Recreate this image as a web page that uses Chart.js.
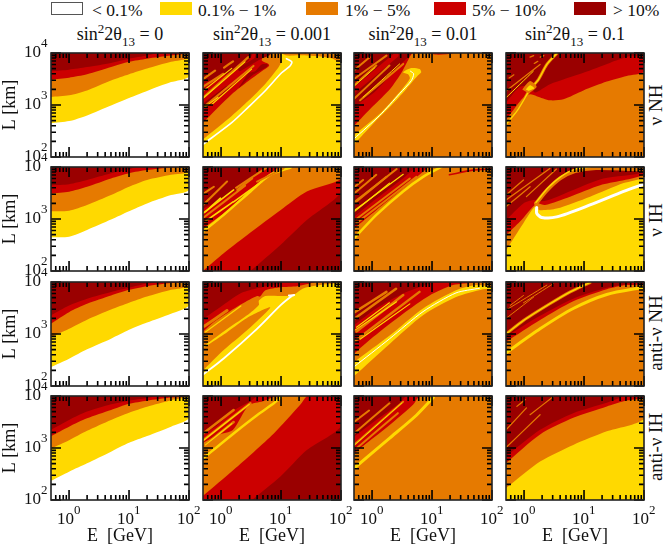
<!DOCTYPE html>
<html>
<head>
<meta charset="utf-8">
<script src="https://cdn.jsdelivr.net/npm/chart.js@4"></script>
<style>
html, body { margin: 0; padding: 0; background: #fff; overflow: hidden; }
body { position: relative; width: 664px; height: 547px; font-family: "Liberation Serif", serif; color: #111; }
canvas { position: absolute; }
.txt { position: absolute; white-space: nowrap; font-size: 17.5px; line-height: 20px; }
.swatch { position: absolute; top: 2px; height: 13px; width: 32px; box-sizing: border-box; }
.ttl { font-size: 18px; }
.ttl sup { font-size: 13px; vertical-align: 7px; line-height: 0; }
.ttl sub { font-size: 13px; vertical-align: -6px; line-height: 0; }
.side { font-size: 19px; transform: translate(-50%, -50%) rotate(-90deg); }
</style>
</head>
<body>
<script>
// legend + headers
const legendLabels = ['< 0.1%', '0.1% \u2212 1%', '1% \u2212 5%', '5% \u2212 10%', '> 10%'];
const levelColors = ['#ffffff', '#ffd900', '#e67a00', '#cc0000', '#9a0000'];
const columnValues = ['0', '0.001', '0.01', '0.1'];
const rowLabels = ['\u03bd NH', '\u03bd IH', 'anti-\u03bd NH', 'anti-\u03bd IH'];

// axis ticks
const xTicks = [0.6,0.7,0.8,0.9,1,2,3,4,5,6,7,8,9,10,20,30,40,50,60,70,80,90,100];
const yTicks = [100,200,300,400,500,600,700,800,900,1000,2000,3000,4000,5000,6000,7000,8000,9000,10000];
const tickBase = '10';
const xTickExponents = {1: '0', 10: '1', 100: '2'};
const yTickExponents = {100: '2', 1000: '3', 10000: '4'};

// contour curves, as [log10 E, log10 L]
// row 1, sin22t13 = 0
const r1c1Yellow = [[-.3,2.65],[0,2.69],[.3,2.8],[.7,2.99],[1,3.135],[1.3,3.27],[1.7,3.44],[2,3.55]];
const r1c1Orange = [[-.3,3.154],[0,3.186],[.3,3.28],[.7,3.47],[1,3.59],[1.3,3.7],[1.7,3.83],[2,3.91]];
const r1c1Red = [[-.3,3.49],[0,3.525],[.3,3.59],[.7,3.73],[1,3.83],[1.3,3.89],[1.7,3.95],[2,4]];
const r1c1Dark = [[-.3,3.65],[0,3.68],[.3,3.73],[.7,3.81],[1,3.89],[1.3,3.95],[1.5,4.01]];
// row 1, 0.001
const r1c2Cap = [[.95,4.02],[1.1,3.95],[1.29,3.955],[1.567,3.94],[1.84,3.9],[2,3.83]];
const r1c2Orange = [[-.3,2.34],[.178,2.79],[.456,3.08],[.733,3.4],[.956,3.72],[1.01,3.85],[.99,3.91],[1,4.1],[-.4,4.1]];
const r1c2White = [[-.3,2.244],[.178,2.66],[.456,2.96],[.733,3.27],[1.01,3.62],[1.15,3.75],[1.18,3.83],[1.09,3.89]];
const r1c2Red = [[-.3,2.66],[.178,3.205],[.456,3.46],[.678,3.65],[.8,3.75],[.79,3.79],[.678,3.86],[.74,4.1],[-.4,4.1]];
const r1c2DarkA = [[-.3,4.1],[.54,4.1],[.456,3.85],[.178,3.65],[-.044,3.525],[-.3,3.41]];
const r1c2DarkB = [[.29,3.32],[.51,3.56],[.76,3.73],[.78,3.78],[.678,3.78],[.567,3.65],[.456,3.62]];
const r1c2DarkC = [[.6,4.1],[.9,4.1],[.8,3.95],[.55,3.85]];
const r1c2StripeDark = [[[.317,3.69],[.678,3.94]],[[-.3,2.98],[.1,3.33]]];
const r1c2StripeOrange = [[[-.3,3.35],[.04,3.6]],[[-.3,3.14],[.456,3.92]],[[-.27,2.98],[.54,3.75]],[[-.3,3.5],[-.1,3.66]],[[.05,3.72],[.2,3.84]]];
const r1c2StripeYellow = [[[-.3,3.27],[.178,3.705]],[[-.3,3.13],[.4,3.83]],[[-.156,3.01],[.51,3.69]],[[-.28,2.95],[-.05,3.15]]];
// row 1, 0.01
const r1c3YellowBand = [[-.3,2.24],[.017,2.64],[.294,2.96],[.572,3.31],[.767,3.57],[.82,3.63],[.794,3.69],[.656,3.71],[.517,3.63],[.6,3.59],[.63,3.51],[.46,3.25],[.128,2.83],[-.3,2.42]];
const r1c3White = [[-.3,2.35],[.128,2.8],[.461,3.22],[.656,3.47],[.694,3.6],[.64,3.65]];
const r1c3Red = [[-.3,2.6],[.017,2.98],[.294,3.3],[.45,3.55],[.51,3.66],[.63,3.93],[.72,4.1],[-.4,4.1]];
const r1c3Dark = [[-.3,2.96],[.07,3.28],[.378,3.67],[.63,3.955],[.72,4.1],[-.4,4.1]];
const r1c3RedTop = [[.72,4.1],[1.05,3.97],[1.4,4.01],[1.4,4.1]];
const r1c3StripeOrange = [[[-.3,3.38],[.07,3.76]],[[-.3,3.5],[.24,3.95]],[[-.3,3.12],[.29,3.76]],[[-.3,3.67],[-.04,3.92]],[[-.2,3.09],[.52,3.79]]];
const r1c3StripeYellow = [[[-.15,3.15],[.46,3.79]],[[-.3,3.36],[.05,3.72]]];
const r1c3StripeRed = [[[-.3,3.28],[.4,3.96]]];
// row 1, 0.1
const r1c4Red = [[-.3,2.72],[-.18,2.9],[-.03,3.12],[.1,3.205],[.21,3.17],[.433,3.09],[.656,3.11],[.99,3.28],[1.38,3.45],[1.71,3.56],[2,3.64]];
const r1c4Dark = [[-.3,3.05],[-.067,3.35],[.1,3.35],[.183,3.24],[.433,3.4],[.99,3.62],[1.43,3.81],[1.77,3.94],[2,3.96]];
const r1c4Spine = [[-.29,2.64],[-.12,2.88],[.017,3.14],[.1,3.3],[.24,3.49],[.38,3.78],[.544,3.99]];
const r1c4Blob = [[-.03,3.3],[.1,3.46],[.21,3.35],[.08,3.22]];
const r1c4BlobCore = [[.03,3.3],[.1,3.38],[.17,3.32],[.08,3.27]];
const r1c4StripeYellow = [[[-.3,3.14],[.155,3.65]]];
const r1c4StripeOrange = [[[-.3,3.27],[.267,3.78]],[[-.25,3.52],[-.17,3.58]],[[.1,3.92],[.16,3.95]],[[.27,3.92],[.33,3.95]],[[.17,3.8],[.23,3.84]]];
// row 2, 0
const r2c1Yellow = [[-.3,2.65],[0,2.66],[.3,2.79],[.7,2.99],[1,3.15],[1.3,3.3],[1.7,3.46],[2,3.56]];
const r2c1Orange = [[-.3,3.15],[0,3.16],[.3,3.27],[.7,3.46],[1,3.62],[1.3,3.75],[1.7,3.85],[2,3.91]];
const r2c1Red = [[-.3,3.49],[0,3.525],[.3,3.62],[.7,3.78],[1,3.88],[1.3,3.94],[1.7,3.99],[1.9,4.01]];
const r2c1Dark = [[-.3,3.65],[0,3.67],[.3,3.75],[.7,3.88],[1,3.955],[1.15,4.01]];
// row 2, 0.001
const r2c2Red = [[-.35,1.4],[.2,1.72],[.49,2],[.99,2.5],[1.43,2.98],[2,3.51]];
const r2c2Orange = [[-.3,2],[.044,2.34],[.49,2.74],[.99,3.17],[1.43,3.53],[2,3.77]];
const r2c2Red2 = [[-.3,2.82],[.044,3.11],[.49,3.56],[.82,3.87],[1.02,4.02]];
const r2c2Dark = [[-.3,3.2],[.044,3.4],[.3,3.6],[.6,3.88],[.74,4.02]];
const r2c2Yellow = [[-.3,2.76],[.044,3.08],[.49,3.53],[.82,3.85],[1.16,3.99]];
const r2c2StripeOrange = [[[-.3,3.27],[.1,3.72]],[[-.3,3.02],[.4,3.64]],[[.25,3.6],[.75,3.98]],[[-.29,3.49],[-.12,3.62]],[[.27,3.56],[.52,3.78]],[[.6,3.72],[1.04,3.97]]];
const r2c2StripeYellow = [[[-.3,3.11],[.21,3.56]],[[-.27,2.95],[.2,3.33]],[[.21,3.33],[.68,3.72]],[[-.26,3.14],[-.01,3.4]]];
// row 2, 0.01
const r2c3Yellow = [[-.3,2.63],[.072,3.08],[.517,3.53],[.85,3.81],[1.155,4]];
const r2c3Red = [[-.3,2.82],[.07,3.17],[.517,3.59],[.85,3.91],[.99,4.02]];
const r2c3Dark = [[-.3,3.04],[.07,3.39],[.517,3.78],[.79,4.02]];
const r2c3RedTop = [[1.29,3.85],[1.68,3.94],[1.98,3.96]];
const r2c3StripeOrange = [[[-.3,3.3],[.24,3.81]],[[-.3,3.49],[.07,3.85]],[[-.26,3],[.63,3.78]],[[-.29,3.62],[-.15,3.75]],[[-.29,3.33],[.41,3.96]],[[-.26,2.92],[.74,3.81]]];
const r2c3StripeYellow = [[[-.3,3.14],[.29,3.69]],[[-.29,3.17],[.52,3.86]]];
// row 2, 0.1
const r2c4Orange = [[-.3,2.4],[-.011,2.92],[.183,3.24],[.26,3.17],[.544,3.2],[1.1,3.43],[1.66,3.69],[2,3.81]];
const r2c4White = [[.211,3.22],[.211,3.11],[.294,3.03],[.544,3.04],[1.1,3.27],[1.66,3.53],[2,3.67]];
const r2c4Red = [[-.3,2.69],[-.067,2.95],[.21,3.3],[.35,3.27],[.767,3.43],[1.27,3.65],[2,3.85]];
const r2c4Dark = [[-.3,2.98],[-.011,3.3],[.156,3.365],[.26,3.34],[.406,3.365],[.82,3.56],[1.32,3.78],[2,3.9]];
const r2c4Band = [[.2,3.3],[.38,3.55],[.6,3.78],[.85,3.92],[1.2,3.98],[2,3.95]];
const r2c4BandCore = [[.2,3.32],[.4,3.6],[.62,3.82],[.85,3.96],[1.1,4]];
const r2c4StripeOrange = [[[-.3,3.365],[.43,3.97]],[[-.3,3.24],[.1,3.62]],[[-.3,3.46],[-.01,3.75]],[[.04,3.43],[.54,3.96]]];
// row 3, 0
const r3c1Yellow = [[-.3,2.365],[0,2.525],[.3,2.705],[.7,2.91],[1,3.08],[1.3,3.22],[1.7,3.39],[2,3.55]];
const r3c1Orange = [[-.3,2.94],[0,3.1],[.3,3.275],[.7,3.47],[1,3.6],[1.3,3.72],[1.7,3.85],[2,3.92]];
const r3c1Red = [[-.3,3.2],[0,3.42],[.3,3.58],[.7,3.74],[1,3.85],[1.3,3.92],[1.7,3.98],[2,4]];
const r3c1Dark = [[-.3,3.36],[0,3.55],[.3,3.68],[.7,3.81],[1,3.89],[1.3,3.97],[1.6,4.01]];
// row 3, 0.001
const r3c2White = [[-.3,2.22],[.044,2.53],[.6,3.1],[.99,3.55],[1.18,3.73],[1.22,3.75],[1.13,3.74]];
const r3c2Finger = [[-.3,2.3],[.044,2.69],[.433,3.07],[.82,3.51],[.433,3.31],[.044,2.99],[-.3,2.73]];
const r3c2Orange = [[-.3,2.76],[.044,3.05],[.433,3.36],[.63,3.56],[.63,3.64],[.74,3.73],[1.18,3.74],[1.38,3.88],[1.71,3.95],[2,3.99]];
const r3c2Red = [[-.3,3.04],[-.12,3.23],[.35,3.58],[.6,3.73],[.65,3.72],[.74,3.84],[.99,3.9],[1.27,3.92],[1.54,3.99],[1.6,4.02]];
const r3c2Dark = [[-.3,3.29],[-.01,3.52],[.32,3.78],[.57,3.87],[.99,3.97],[1.04,4.01]];
const r3c2StripeOrange = [[[-.3,2.97],[.267,3.46]],[[-.28,3.15],[.1,3.45]]];
const r3c2StripeYellow = [[[-.26,3.04],[.33,3.54]]];
// row 3, 0.01
const r3c3YellowBand = [[-.3,2.19],[.294,2.81],[.85,3.36],[1.4,3.71],[1.85,3.86],[2,3.87],[2,3.9],[1.74,3.94],[1.4,3.84],[.85,3.49],[.294,2.97],[-.3,2.46]];
const r3c3White = [[-.3,2.37],[.294,2.91],[.85,3.43],[1.4,3.79],[1.79,3.88]];
const r3c3Red = [[-.3,2.62],[.017,2.94],[.517,3.39],[.96,3.74],[1.35,3.94],[1.74,3.99],[1.9,4.02]];
const r3c3Dark = [[-.3,3.17],[.07,3.49],[.517,3.78],[.96,3.97],[1.04,4.02]];
const r3c3StripeOrange = [[[-.3,3.29],[.4,3.87]],[[-.3,2.85],[.79,3.81]],[[-.26,3.05],[.52,3.75]],[[-.29,3.42],[.24,3.81]]];
const r3c3StripeYellow = [[[-.26,3.13],[.29,3.6]],[[-.2,2.9],[.63,3.58]],[[-.29,3.07],[.41,3.62]]];
// row 3, 0.1
const r3c4Yellow = [[-.3,2.64],[.267,3.1],[.82,3.49],[1.38,3.76],[2,3.9]];
const r3c4Red = [[-.3,2.85],[.267,3.27],[.82,3.63],[1.38,3.86],[1.7,3.94],[2,3.96]];
const r3c4Dark = [[-.3,2.95],[.267,3.35],[.82,3.68],[1.38,3.89],[1.7,3.96],[1.9,4.01]];
const r3c4Upper = [[-.3,3],[-.01,3.26],[.43,3.58],[.77,3.81],[1.1,3.99]];
const r3c4StripeOrange = [[[-.3,3.3],[.16,3.71]],[[-.3,3.46],[.38,3.94]],[[-.23,3.55],[-.01,3.74]],[[-.01,3.6],[.49,3.97]]];
// row 4, 0
const r4c1Yellow = [[-.3,2.37],[0,2.545],[.3,2.705],[.7,2.93],[1,3.1],[1.3,3.23],[1.7,3.41],[2,3.57]];
const r4c1Orange = [[-.3,2.99],[0,3.15],[.3,3.33],[.7,3.54],[1,3.68],[1.3,3.795],[1.7,3.92],[2,3.99]];
const r4c1Red = [[-.3,3.23],[0,3.41],[.3,3.57],[.7,3.73],[1,3.85],[1.3,3.91],[1.7,3.97],[2,4]];
const r4c1Dark = [[-.3,3.35],[0,3.54],[.3,3.7],[.7,3.84],[1,3.91],[1.3,3.96],[1.5,4.01]];
// row 4, 0.001
const r4c2Red = [[-.35,1.4],[.2,1.7],[.517,2],[.99,2.45],[1.43,2.96],[2,3.42]];
const r4c2Orange = [[-.3,2.08],[.21,2.58],[.88,3.28],[1.32,3.83],[1.46,4.02]];
const r4c2Red2 = [[-.3,3.1],[-.05,3.25],[.2,3.35],[.46,3.82],[.7,3.9],[.99,4.02]];
const r4c2Dark = [[-.3,3.25],[-.05,3.45],[.21,3.72],[.49,3.9],[.65,4.02]];
const r4c2Yellow = [[-.3,2.8],[.21,3.28],[.6,3.63],[.88,3.86],[1,3.98]];
const r4c2StripeOrange = [[[-.3,3.15],[.49,3.86]],[[-.3,3.03],[.21,3.5]],[[-.3,3.28],[.21,3.73]]];
const r4c2StripeYellow = [[[-.3,3.14],[.47,3.84]],[[-.26,3.06],[.18,3.47]]];
// row 4, 0.01
const r4c3Yellow = [[-.3,2.61],[.294,3.19],[.74,3.63],[1.02,3.97]];
const r4c3Red = [[-.3,2.9],[.294,3.44],[.683,3.83],[.82,4.02]];
const r4c3Dark = [[-.3,3.22],[.07,3.54],[.46,3.86],[.6,4.02]];
const r4c3StripeOrange = [[[-.3,3.28],[.29,3.86]],[[-.3,3.06],[.517,3.89]],[[-.26,2.99],[.43,3.67]],[[-.3,3.5],[-.05,3.72]]];
const r4c3StripeYellow = [[[-.3,3.05],[.5,3.87]]];
// row 4, 0.1
const r4c4Orange = [[-.3,2.23],[.267,2.74],[.82,3.06],[1.38,3.32],[2,3.56]];
const r4c4Red = [[-.3,2.71],[.267,3.26],[.82,3.58],[1.38,3.8],[1.66,3.9],[2,3.97]];
const r4c4Dark = [[-.3,2.84],[.267,3.35],[.82,3.67],[1.38,3.87],[1.57,3.95],[1.66,4.01]];
const r4c4StripeOrange = [[[-.3,3.01],[.267,3.64]],[[.1,3.64],[.49,3.99]],[[-.3,3.35],[.04,3.77]],[[-.12,3.8],[.02,3.93]]];

const WHITE = 0, YELLOW = 1, ORANGE = 2, RED = 3, DARK = 4;
const whole = [[-.4,1.9],[2.1,1.9]];
// closes a curve over the top of the panel
const above = c => [...c, [2.1, 4.1], [-.4, 4.1]];
const area = (c, level) => ({pts: above(c), level});
const poly = (pts, level) => ({pts, level});
const stroke = (pts, level, width) => ({pts, level, width});
const strokes = (list, level, width) => list.map(s => stroke(s, level, width));

// painted bottom to top
const panels = [
  [area(whole,WHITE), area(r1c1Yellow,YELLOW), area(r1c1Orange,ORANGE), area(r1c1Red,RED), area(r1c1Dark,DARK)],
  [area(whole,YELLOW), area(r1c2Cap,ORANGE), poly(r1c2Orange,ORANGE), stroke(r1c2White,WHITE,1.6), poly(r1c2Red,RED), poly(r1c2DarkA,DARK), poly(r1c2DarkB,DARK), poly(r1c2DarkC,DARK),
    ...strokes(r1c2StripeDark,DARK,4), ...strokes(r1c2StripeOrange,ORANGE,2.2), ...strokes(r1c2StripeYellow,YELLOW,1.1)],
  [area(whole,ORANGE), poly(r1c3YellowBand,YELLOW), stroke(r1c3White,WHITE,1), poly(r1c3Red,RED), poly(r1c3RedTop,RED), poly(r1c3Dark,DARK),
    ...strokes(r1c3StripeRed,RED,5), ...strokes(r1c3StripeOrange,ORANGE,2), ...strokes(r1c3StripeYellow,YELLOW,1)],
  [area(whole,ORANGE), area(r1c4Red,RED), area(r1c4Dark,DARK), stroke(r1c4Spine,ORANGE,3), stroke(r1c4Spine,YELLOW,1.3), poly(r1c4Blob,ORANGE), poly(r1c4BlobCore,YELLOW),
    ...strokes(r1c4StripeOrange,ORANGE,1.2), ...strokes(r1c4StripeYellow,YELLOW,1)],

  [area(whole,WHITE), area(r2c1Yellow,YELLOW), area(r2c1Orange,ORANGE), area(r2c1Red,RED), area(r2c1Dark,DARK)],
  [area(whole,DARK), area(r2c2Red,RED), area(r2c2Orange,ORANGE), area(r2c2Red2,RED), stroke(r2c2Yellow,YELLOW,2.5), area(r2c2Dark,DARK),
    ...strokes(r2c2StripeOrange,ORANGE,2), ...strokes(r2c2StripeYellow,YELLOW,1.6)],
  [area(whole,ORANGE), stroke(r2c3RedTop,RED,1.6), area(r2c3Red,RED), stroke(r2c3Yellow,YELLOW,2.5), area(r2c3Dark,DARK),
    ...strokes(r2c3StripeOrange,ORANGE,2), ...strokes(r2c3StripeYellow,YELLOW,1.2)],
  [area(whole,YELLOW), area(r2c4Orange,ORANGE), stroke(r2c4White,WHITE,3), area(r2c4Red,RED), area(r2c4Dark,DARK), stroke(r2c4Band,ORANGE,4), stroke(r2c4BandCore,YELLOW,1.4),
    ...strokes(r2c4StripeOrange,ORANGE,1.3)],

  [area(whole,WHITE), area(r3c1Yellow,YELLOW), area(r3c1Orange,ORANGE), area(r3c1Red,RED), area(r3c1Dark,DARK)],
  [area(whole,YELLOW), poly(r3c2Finger,ORANGE), area(r3c2Orange,ORANGE), stroke(r3c2White,WHITE,1.8), area(r3c2Red,RED), area(r3c2Dark,DARK),
    ...strokes(r3c2StripeOrange,ORANGE,3), ...strokes(r3c2StripeYellow,YELLOW,1.2)],
  [area(whole,ORANGE), poly(r3c3YellowBand,YELLOW), stroke(r3c3White,WHITE,1), area(r3c3Red,RED), area(r3c3Dark,DARK),
    ...strokes(r3c3StripeOrange,ORANGE,2.5), ...strokes(r3c3StripeYellow,YELLOW,1.1)],
  [area(whole,ORANGE), area(r3c4Red,RED), area(r3c4Dark,DARK), stroke(r3c4Yellow,YELLOW,3), stroke(r3c4Upper,ORANGE,3), stroke(r3c4Upper,YELLOW,1.2),
    ...strokes(r3c4StripeOrange,ORANGE,1)],

  [area(whole,WHITE), area(r4c1Yellow,YELLOW), area(r4c1Orange,ORANGE), area(r4c1Red,RED), area(r4c1Dark,DARK)],
  [area(whole,DARK), area(r4c2Red,RED), area(r4c2Orange,ORANGE), area(r4c2Red2,RED), stroke(r4c2Yellow,YELLOW,2.5), area(r4c2Dark,DARK),
    ...strokes(r4c2StripeOrange,ORANGE,2.5), ...strokes(r4c2StripeYellow,YELLOW,1.1)],
  [area(whole,ORANGE), stroke(r4c3Yellow,YELLOW,3), area(r4c3Red,RED), area(r4c3Dark,DARK),
    ...strokes(r4c3StripeOrange,ORANGE,2), ...strokes(r4c3StripeYellow,YELLOW,1)],
  [area(whole,YELLOW), area(r4c4Orange,ORANGE), area(r4c4Red,RED), area(r4c4Dark,DARK), ...strokes(r4c4StripeOrange,ORANGE,1.2)]
];

// page layout
const colLeft = [51, 203, 354, 506], rowTop = [53, 167, 282, 396];
const plotW = 138, plotH = 104;
const margin = {left: 52, right: 20, top: 16, bottom: 47};
const legendX = [51, 160, 306, 434, 574], legendTextX = [92, 198, 345, 472, 613];
const titleX = [120, 272, 423, 575], rowLabelX = 656, rowLabelY = [105, 220, 333, 447];

function addText(html, x, y, cls) {
  const d = document.createElement('div');
  d.className = 'txt ' + (cls || '');
  d.innerHTML = html;
  d.style.left = x + 'px';
  d.style.top = y + 'px';
  document.body.appendChild(d);
  return d;
}

legendLabels.forEach((t, i) => {
  const s = document.createElement('div');
  s.className = 'swatch';
  s.style.left = legendX[i] + 'px';
  s.style.background = levelColors[i];
  if (i === WHITE) s.style.border = '1.5px solid #555';
  document.body.appendChild(s);
  addText(t.replace('<', '&lt;'), legendTextX[i], 0);
});
columnValues.forEach((v, i) => {
  const d = addText('sin<sup>2</sup>2\u03b8<sub>13</sub> = ' + v, titleX[i], 24, 'ttl');
  d.style.transform = 'translateX(-50%)';
});
rowLabels.forEach((t, i) => addText(t, rowLabelX, rowLabelY[i], 'side'));

// gnuplot style: ticks inside on all four sides, longer on the decades,
// and decade labels with a raised exponent
const insideTicks = {
  id: 'insideTicks',
  afterDraw(chart, args, opts) {
    const {ctx, chartArea: a, scales: {x, y}} = chart;
    const len = (v, labels) => labels[v] ? 10 : 5;
    ctx.save();
    ctx.strokeStyle = '#000';
    ctx.lineWidth = 1.6;
    ctx.beginPath();
    xTicks.forEach(v => {
      const p = x.getPixelForValue(v);
      ctx.moveTo(p, a.bottom); ctx.lineTo(p, a.bottom - len(v, xTickExponents));
      ctx.moveTo(p, a.top); ctx.lineTo(p, a.top + len(v, xTickExponents));
    });
    yTicks.forEach(v => {
      const p = y.getPixelForValue(v);
      ctx.moveTo(a.left, p); ctx.lineTo(a.left + len(v, yTickExponents), p);
      ctx.moveTo(a.right, p); ctx.lineTo(a.right - len(v, yTickExponents), p);
    });
    ctx.stroke();
    ctx.lineWidth = 1.6;
    ctx.strokeStyle = '#222';
    ctx.strokeRect(a.left, a.top, a.right - a.left, a.bottom - a.top);

    ctx.fillStyle = '#111';
    ctx.textBaseline = 'middle';
    const put = (px, py) => exp => {
      ctx.font = '17px "Liberation Serif"';
      ctx.textAlign = 'right';
      ctx.fillText(tickBase, px, py);
      ctx.font = '13px "Liberation Serif"';
      ctx.textAlign = 'left';
      ctx.fillText(exp, px, py - 9);
    };
    if (opts.labelX) {
      Object.keys(xTickExponents).forEach(v => put(x.getPixelForValue(+v) + 5, a.bottom + 20)(xTickExponents[v]));
    }
    if (opts.labelY) {
      Object.keys(yTickExponents).forEach(v => put(a.left - 10, y.getPixelForValue(+v))(yTickExponents[v]));
    }
    ctx.restore();
  }
};

panels.forEach((layers, n) => {
  const row = Math.floor(n / 4), col = n % 4;
  const cv = document.createElement('canvas');
  cv.width = margin.left + plotW + margin.right;
  cv.height = margin.top + plotH + margin.bottom;
  cv.style.left = (colLeft[col] - margin.left) + 'px';
  cv.style.top = (rowTop[row] - margin.top) + 'px';
  document.body.appendChild(cv);

  // dataset 0 is drawn last by Chart.js, so feed them reversed
  const datasets = layers.slice().reverse().map(l => ({
    data: l.pts.map(([e, d]) => ({x: 10 ** e, y: 10 ** d})),
    showLine: true,
    pointRadius: 0,
    tension: 0.25,
    capBezierPoints: false,
    borderWidth: l.width || 0,
    borderColor: levelColors[l.level],
    borderCapStyle: 'round',
    backgroundColor: levelColors[l.level],
    fill: l.width ? false : 'shape'
  }));

  new Chart(cv, {
    type: 'scatter',
    data: {datasets},
    options: {
      responsive: false,
      animation: false,
      events: [],
      layout: {padding: {top: margin.top, right: margin.right}},
      plugins: {
        legend: {display: false},
        tooltip: {enabled: false},
        insideTicks: {labelX: row === 3, labelY: col === 0}
      },
      scales: {
        x: {
          type: 'logarithmic', min: 0.5, max: 100,
          grid: {display: false, drawTicks: false},
          border: {display: false},
          afterFit: s => { s.height = margin.bottom; },
          ticks: {display: false},
          title: {display: row === 3, text: 'E  [GeV]', color: '#111', padding: 0, font: {family: 'Liberation Serif', size: 18}}
        },
        y: {
          type: 'logarithmic', min: 100, max: 10000,
          grid: {display: false, drawTicks: false},
          border: {display: false},
          afterFit: s => { s.width = margin.left; },
          ticks: {display: false},
          title: {display: col === 0, text: 'L [km]', color: '#111', padding: 0, font: {family: 'Liberation Serif', size: 18}}
        }
      }
    },
    plugins: [insideTicks]
  });
});
</script>
</body>
</html>
